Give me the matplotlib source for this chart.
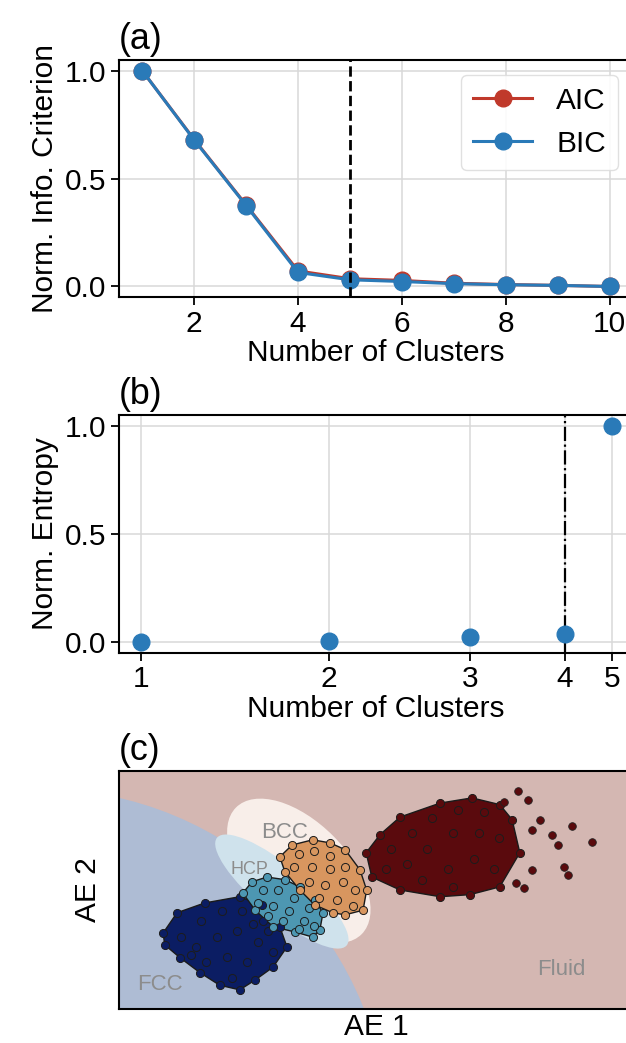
import numpy as np
import matplotlib.pyplot as plt
from matplotlib.patches import Ellipse, Polygon

plt.rcParams.update({'font.family': ['Liberation Sans', 'DejaVu Sans'],
                     'font.size': 21.5,
                     'axes.linewidth': 1.5,
                     'xtick.major.size': 5.5,
                     'ytick.major.size': 5.5,
                     'xtick.major.width': 1.3,
                     'ytick.major.width': 1.3,
                     'grid.color': '#d8d8d8',
                     'grid.linewidth': 1.1,
                     })

# (a) information criteria vs number of clusters
n_clusters = list(range(1, 11))
aic = [1.0, 0.681, 0.378, 0.072, 0.036, 0.028, 0.015, 0.009, 0.005, 0.0]
bic = [1.0, 0.679, 0.375, 0.065, 0.031, 0.023, 0.013, 0.008, 0.005, 0.0]
best_ic = 5

# (b) normalised entropy
n_entropy = [1, 2, 3, 4, 5]
entropy = [0.0, 0.006, 0.021, 0.037, 1.0]
best_entropy = 4
# uneven spacing of the cluster axis in panel (b)
axis_knots = [0, 1, 2, 3, 4, 5, 6]
axis_place = [-4, 0, 4, 7, 9, 10, 11]

# (c) latent space (AE 1, AE 2): cluster outlines and inner points
phases = ['FCC', 'HCP', 'BCC', 'Fluid']
fcc_pts = [(0.86, 1.47), (1.13, 1.86), (1.67, 2.05), (2.35, 2.17), (2.78, 2.01),
           (3.13, 1.59), (3.27, 1.20), (3.00, 0.81), (2.65, 0.56), (2.35, 0.37),
           (1.96, 0.46), (1.58, 0.70), (1.19, 0.99), (0.89, 1.24)]
fcc_inner = [(1.2, 1.4), (1.6, 1.7), (2.0, 1.9), (2.4, 1.9), (2.8, 1.7), (1.5, 1.2),
             (1.9, 1.4), (2.3, 1.5), (2.7, 1.3), (3.0, 1.1), (1.7, 0.9), (2.1, 1.0),
             (2.5, 0.9), (2.2, 0.6), (1.4, 1.05), (2.9, 1.5), (2.6, 1.65)]
hcp_pts = [(2.88, 2.55), (3.23, 2.50), (3.52, 2.36), (3.81, 2.11), (3.97, 1.86),
           (3.91, 1.53), (3.77, 1.39), (3.42, 1.49), (3.00, 1.59), (2.65, 1.91),
           (2.41, 2.24), (2.59, 2.46)]
hcp_inner = [(2.8, 2.3), (3.1, 2.3), (3.4, 2.15), (3.7, 1.95), (2.7, 2.05), (3.0, 2.0),
             (3.3, 1.9), (3.6, 1.7), (3.2, 1.7), (3.5, 1.55), (3.8, 1.6), (2.9, 1.8)]
bcc_pts = [(3.77, 3.27), (4.11, 3.21), (4.40, 3.08), (4.69, 2.69), (4.82, 2.30),
           (4.75, 1.91), (4.40, 1.82), (4.16, 1.86), (3.81, 2.01), (3.52, 2.30),
           (3.23, 2.65), (3.13, 2.94), (3.37, 3.17)]
bcc_inner = [(3.5, 3.0), (3.8, 3.05), (4.1, 2.95), (3.4, 2.75), (3.75, 2.75), (4.1, 2.7),
             (4.4, 2.75), (3.7, 2.45), (4.0, 2.4), (4.35, 2.45), (4.6, 2.3), (3.9, 2.15),
             (4.25, 2.1), (4.55, 2.0)]
fluid_pts = [(4.81, 3.02), (5.08, 3.37), (5.47, 3.71), (6.25, 3.98), (6.87, 4.08),
             (7.41, 3.95), (7.65, 3.66), (7.80, 3.02), (7.41, 2.36), (6.83, 2.21),
             (6.25, 2.17), (5.47, 2.30), (4.92, 2.55)]
fluid_inner = [(5.3, 3.1), (5.7, 3.4), (6.1, 3.7), (6.6, 3.85), (7.1, 3.8), (5.6, 2.8),
               (6.0, 3.1), (6.5, 3.4), (7.0, 3.4), (7.4, 3.3), (5.9, 2.5), (6.4, 2.7),
               (6.9, 2.9), (7.3, 2.7), (6.5, 2.35), (5.2, 2.7)]
fluid_strays = [(7.76, 4.22), (7.96, 4.04), (8.81, 3.54), (9.20, 3.23), (8.54, 3.17),
                (8.66, 2.75), (8.74, 2.59), (8.42, 3.37), (8.04, 3.46), (7.88, 2.34),
                (7.72, 2.44), (8.04, 2.69), (7.49, 4.00), (8.19, 3.66)]
# decision regions: centre, width, height, angle
fcc_region = ((-1.5, -2.5), 13.5, 13.5, 0)
bcc_region = ((3.50, 2.67), 3.46, 1.90, -45)
hcp_region = ((3.17, 2.27), 3.27, 0.95, -39.5)
label_pos = {'FCC': (0.80, 0.48), 'HCP': (2.53, 2.69), 'BCC': (3.23, 3.42), 'Fluid': (8.60, 0.77)}

red = '#c0392b'
blue = '#2a7ab8'

fig = plt.figure(figsize=(6.26, 10.43), dpi=100)
ax1 = fig.add_axes([0.190, 0.715, 0.821, 0.2275])
ax2 = fig.add_axes([0.190, 0.3742, 0.821, 0.2279])
ax3 = fig.add_axes([0.190, 0.0326, 0.821, 0.2282])

# (a)
ax1.plot(n_clusters, aic, '-o', color=red, lw=2.2, ms=12, label='AIC')
ax1.plot(n_clusters, bic, '-o', color=blue, lw=2.2, ms=12, label='BIC')
ax1.axvline(best_ic, color='k', ls='--', lw=2)
ax1.set_xlim(0.55, 10.45)
ax1.set_ylim(-0.05, 1.05)
ax1.set_xticks([2, 4, 6, 8, 10])
ax1.set_yticks([0.0, 0.5, 1.0])
ax1.grid(True)
ax1.set_axisbelow(True)
ax1.set_xlabel('Number of Clusters', labelpad=1)
ax1.set_ylabel('Norm. Info. Criterion')
ax1.set_title('(a)', loc='left', pad=8)
ax1.legend(loc='upper right', framealpha=0.9, edgecolor='#dddddd')


# (b)
def fwd(x):
    return np.interp(x, axis_knots, axis_place)


def inv(x):
    return np.interp(x, axis_place, axis_knots)


ax2.set_xscale('function', functions=(fwd, inv))
ax2.plot(n_entropy, entropy, 'o', color=blue, ms=12, zorder=3)
ax2.axvline(best_entropy, color='k', ls='-.', lw=1.6)
ax2.set_xlim(0.883, 5.45)
ax2.set_ylim(-0.05, 1.05)
ax2.set_xticks(n_entropy)
ax2.set_xticklabels([str(n) for n in n_entropy])
ax2.minorticks_off()
ax2.set_yticks([0.0, 0.5, 1.0])
ax2.grid(True)
ax2.set_axisbelow(True)
ax2.set_xlabel('Number of Clusters', labelpad=1)
ax2.set_ylabel('Norm. Entropy')
ax2.set_title('(b)', loc='left', pad=8)

# (c)
ax3.set_facecolor('#d4b7b2')
for (c, w, h, a), col, z in [(fcc_region, '#aebcd4', 1),
                             (bcc_region, '#f8eee9', 2),
                             (hcp_region, '#cfe2ec', 3)]:
    ax3.add_patch(Ellipse(c, w, h, angle=a, facecolor=col, edgecolor='none', zorder=z))

cluster_style = [(fcc_pts, fcc_inner, '#0b1d63'), (hcp_pts, hcp_inner, '#4d97b2'),
                 (bcc_pts, bcc_inner, '#d8965f'), (fluid_pts, fluid_inner, '#5a0a0d')]
for outline, inner, col in cluster_style:
    outline = np.array(outline)
    inner = np.array(inner)
    ax3.add_patch(Polygon(outline, closed=True, facecolor=col, edgecolor='#1a1a1a',
                          lw=1.0, zorder=5))
    for pts in (outline, inner):
        ax3.scatter(pts[:, 0], pts[:, 1], s=34, color=col, edgecolor='#1c1c1c',
                    linewidth=0.7, zorder=6)
strays = np.array(fluid_strays)
ax3.scatter(strays[:, 0], strays[:, 1], s=30, color='#5a0a0d', edgecolor='#222222',
            linewidth=0.6, zorder=6)

for name in phases:
    fs = 13 if name == 'HCP' else 16
    ax3.text(*label_pos[name], name, color='#8c8c8c', fontsize=fs,
             ha='center', va='center', zorder=4)

ax3.set_xlim(0, 10)
ax3.set_ylim(0, 4.6)
ax3.set_xticks([])
ax3.set_yticks([])
ax3.set_xlabel('AE 1', labelpad=3)
ax3.set_ylabel('AE 2', labelpad=12)
ax3.set_title('(c)', loc='left', pad=8)

fig.savefig('out.png', dpi=100)
